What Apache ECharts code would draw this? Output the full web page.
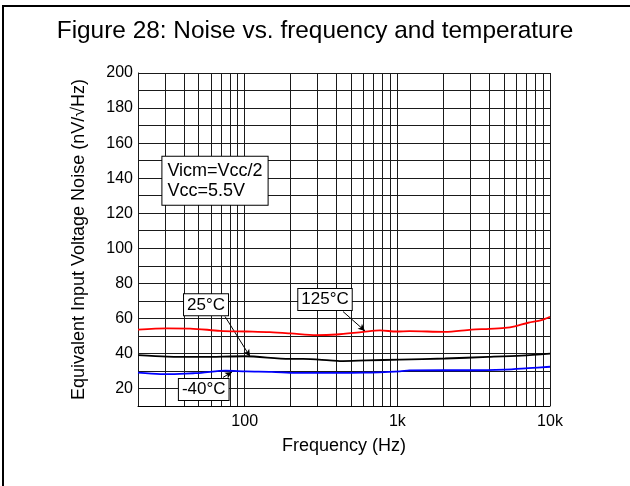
<!DOCTYPE html>
<html>
<head>
<meta charset="utf-8">
<script src="https://cdn.jsdelivr.net/npm/echarts@6/dist/echarts.min.js"></script>
<style>html,body{margin:0;padding:0;background:#fff;}#c{width:630px;height:486px;}</style>
</head>
<body>
<div id="c"></div>
<script>
// ---- data ----
const freq125 = [20, 31, 44, 69, 103, 146, 200, 295, 400, 600, 770, 990, 1200, 2050, 3060, 4000, 5060, 5880, 7190, 8800, 10000];
const val125  = [53.6, 54.3, 54.2, 52.9, 52.5, 52.1, 51.4, 50.4, 50.8, 52.3, 53.1, 52.5, 52.7, 52.3, 53.6, 54.0, 54.6, 55.5, 57.5, 59.0, 60.9];
const freq25  = [20, 31, 52, 100, 197, 241, 361, 420, 628, 1038, 2050, 3932, 6500, 10000];
const val25   = [39.0, 38.2, 38.0, 38.4, 36.9, 36.9, 36.0, 35.6, 36.0, 36.5, 37.1, 38.0, 38.8, 39.9];
const freqM40 = [20, 28, 31, 46, 52, 75, 102, 150, 219, 380, 600, 1040, 1200, 2000, 3060, 5060, 7190, 10000];
const valM40  = [29.0, 28.2, 28.2, 28.7, 28.9, 30.2, 29.7, 29.5, 28.9, 28.9, 29.0, 29.8, 30.3, 30.4, 30.4, 30.8, 31.6, 32.4];
const xGridValues = [20,30,40,50,60,70,80,90,100,200,300,400,500,600,700,800,900,1000,2000,3000,4000,5000,6000,7000,8000,9000,10000];
const xTickLabels = {100: '100', 1000: '1k', 10000: '10k'};
const yTickStep = 20;
const titleText = 'Figure 28: Noise vs. frequency and temperature';
const xName = 'Frequency (Hz)';
const yName = 'Equivalent Input Voltage Noise (nV/\u221AHz)';
const conditionText = 'Vicm=Vcc/2\nVcc=5.5V';
// annotation anchors in data coordinates [freq, value]
const labels = [
  {text: '25\u00B0C',  at: [55.8, 67.7], from: [74.3, 61.1], to: [108.4, 38.2]},
  {text: '125\u00B0C', at: [335.8, 70.8], from: [440.6, 63.9], to: [613.8, 52.8]},
  {text: '-40\u00B0C', at: [53.9, 19.4], from: [72.1, 26.3], to: [82.6, 29.4]}
];
const conditionAt = [28.9, 138.5];

const zip = (xs, ys) => xs.map((x, i) => [x, ys[i]]);
const FONT = '"Liberation Sans", Arial, sans-serif';

const chart = echarts.init(document.getElementById('c'), null, {renderer: 'canvas'});
const option = {
  backgroundColor: '#fff',
  animation: false,
  textStyle: {fontFamily: FONT},
  title: {
    text: titleText, left: 'center', top: 19, padding: 0,
    textStyle: {fontSize: 24.4, fontWeight: 'normal', color: '#000', fontFamily: FONT}
  },
  graphic: [{
    type: 'rect', shape: {x: 3, y: 6, width: 700, height: 600},
    style: {fill: 'none', stroke: '#000', lineWidth: 2}, silent: true
  }],
  grid: {left: 138, right: 80, top: 73, bottom: 80, show: false},
  xAxis: {
    type: 'log', logBase: 10, min: 20, max: 10000,
    name: xName, nameLocation: 'middle', nameGap: 31,
    nameTextStyle: {fontSize: 18, color: '#000', fontFamily: FONT},
    axisLine: {show: true, onZero: false, lineStyle: {color: '#000', width: 1}},
    axisTick: {show: false},
    splitLine: {show: false},
    minorTick: {show: false}, minorSplitLine: {show: false},
    axisLabel: {
      fontSize: 16, color: '#000', margin: 8, fontFamily: FONT,
      formatter: v => xTickLabels[Math.round(v)] || ''
    }
  },
  yAxis: {
    type: 'value', min: 10, max: 200, interval: 10,
    name: yName, nameLocation: 'middle', nameGap: 50,
    nameTextStyle: {fontSize: 18, color: '#000', fontFamily: FONT},
    axisLine: {show: true, lineStyle: {color: '#000', width: 1}},
    axisTick: {show: false},
    splitLine: {show: true, lineStyle: {color: '#1a1a1a', width: 1}},
    axisLabel: {
      fontSize: 16, color: '#000', margin: 5, fontFamily: FONT,
      formatter: v => (Math.round(v) % yTickStep === 0 ? String(Math.round(v)) : '')
    }
  },
  series: [
    {
      type: 'line', data: [], z: 1, silent: true,
      markLine: {
        silent: true, symbol: ['none', 'none'], animation: false,
        label: {show: false},
        lineStyle: {color: '#1a1a1a', width: 1, type: 'solid'},
        data: xGridValues.map(v => ({xAxis: v}))
      }
    },
    {
      name: '125C', type: 'line', data: zip(freq125, val125), showSymbol: false, smooth: 0.3, z: 5,
      lineStyle: {color: '#ff0000', width: 1.8}
    },
    {
      name: '25C', type: 'line', data: zip(freq25, val25), showSymbol: false, smooth: 0.3, z: 5,
      lineStyle: {color: '#000000', width: 1.8}
    },
    {
      name: '-40C', type: 'line', data: zip(freqM40, valM40), showSymbol: false, smooth: 0.3, z: 5,
      lineStyle: {color: '#0000ff', width: 1.8}
    },
    {
      type: 'line', data: [], z: 8, silent: true,
      markLine: {
        silent: true, symbol: ['none', 'arrow'], symbolSize: [5, 7], animation: false,
        label: {show: false},
        lineStyle: {color: '#000', width: 1, type: 'solid'},
        data: labels.map(l => [{coord: l.from}, {coord: l.to}])
      },
      markPoint: {
        silent: true, animation: false, symbol: 'rect', symbolSize: 0,
        data: labels.map(l => ({
          coord: l.at,
          label: {
            show: true, position: 'inside', formatter: l.text,
            fontSize: 17, color: '#000', fontFamily: FONT,
            backgroundColor: '#fff', borderColor: '#000', borderWidth: 1,
            padding: [3, 3, 1, 3]
          }
        })).concat([{
          coord: conditionAt,
          label: {
            show: true, position: 'inside', formatter: conditionText,
            fontSize: 18, lineHeight: 20, color: '#000', fontFamily: FONT, align: 'left',
            backgroundColor: '#fff', borderColor: '#000', borderWidth: 1,
            padding: [4, 5, 4, 5]
          }
        }])
      }
    }
  ]
};
chart.setOption(option);
</script>
</body>
</html>
